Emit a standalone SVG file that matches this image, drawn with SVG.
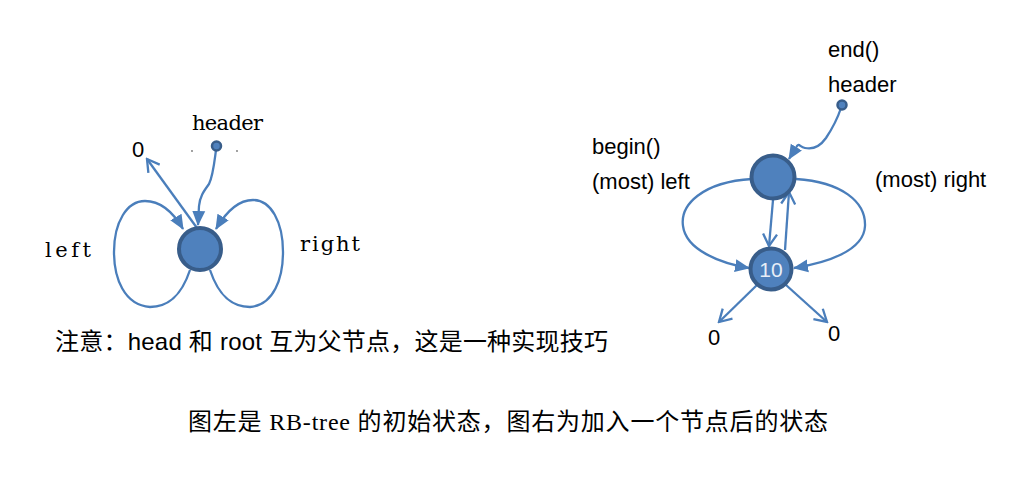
<svg xmlns="http://www.w3.org/2000/svg" width="1024" height="478" viewBox="0 0 1024 478">
<style>
.ln{fill:none;stroke:#4a7ebb;stroke-width:2.3;}
.node{fill:#4f81bd;stroke:#385d8a;stroke-width:4;}
.dot{fill:#4f81bd;stroke:#385d8a;stroke-width:2.5;}
.ser{font-family:"DejaVu Serif","Liberation Serif",serif;font-size:21px;fill:#000;}
.sans{font-family:"Liberation Sans",Arial,sans-serif;font-size:22px;fill:#000;}
.note{font-family:"Liberation Sans","Noto Sans CJK SC",sans-serif;font-size:24px;fill:#000;}
.cap{font-family:"Liberation Serif","Noto Sans CJK SC",serif;font-size:24px;fill:#000;}
</style>
<defs>
<marker id="tri" markerUnits="userSpaceOnUse" markerWidth="16" markerHeight="16" viewBox="0 0 16 16" refX="14" refY="8" orient="auto">
<path d="M0,1.5 L15,8 L0,14.5 Z" fill="#4a7ebb"/>
</marker>
<marker id="vee" markerUnits="userSpaceOnUse" markerWidth="16" markerHeight="16" viewBox="0 0 16 16" refX="14" refY="8" orient="auto">
<path d="M2,1 L14,8 L2,15" fill="none" stroke="#4a7ebb" stroke-width="2.3"/>
</marker>
</defs>
<rect width="1024" height="478" fill="#fff"/>

<g id="connectors">
<path class="ln" d="M216,150 C214,165 213,176 209,184 C204,191 200,196 199,206 L198,225" marker-end="url(#tri)"/>
<path class="ln" d="M197,228 L147,159" marker-end="url(#vee)"/>
<path class="ln" d="M190,270 C180,300 165,307 150,307 C124,305 114,278 114,252 C114,222 127,201 145,201 C161,201 173,212 183,229" marker-end="url(#tri)"/>
<path class="ln" d="M210,270 C220,300 235,307 250,307 C274,305 283,278 283,252 C283,222 271,200 253,200 C238,200 226,212 216,229" marker-end="url(#tri)"/>
<path class="ln" d="M841,108 C837,120 832,129 826,138 C821,145 814,150 805,148 C800,147 799,143 797,146 L789,159" marker-end="url(#tri)"/>
<path class="ln" d="M752,179 C702,182 680,205 683,226 C686,250 720,263 749,268" marker-end="url(#tri)"/>
<path class="ln" d="M796,179 C842,182 866,202 865,226 C864,251 826,263 794,268" marker-end="url(#tri)"/>
<path class="ln" d="M773,200 L769,246" marker-end="url(#vee)"/>
<path class="ln" d="M785,250 L789,192" marker-end="url(#vee)"/>
<path class="ln" d="M757,285 L719,322" marker-end="url(#vee)"/>
<path class="ln" d="M786,285 L827,322" marker-end="url(#vee)"/>
</g>

<g id="left-root">
<circle class="node" cx="200" cy="249" r="21"/>
</g>
<g id="left-header">
<circle class="dot" cx="216.5" cy="146" r="4.5"/>
<text class="ser" x="192" y="130" textLength="71" lengthAdjust="spacing">header</text>
<circle cx="192" cy="151" r="0.9" fill="#777"/>
<circle cx="237" cy="151" r="0.9" fill="#777"/>
</g>
<g id="left-labels">
<text class="sans" x="132" y="157" font-size="20">0</text>
<text class="ser" x="45" y="257" textLength="46" lengthAdjust="spacing">left</text>
<text class="ser" x="300" y="251" textLength="60" lengthAdjust="spacing">right</text>
</g>

<g id="right-header">
<circle class="dot" cx="842" cy="105" r="4.5"/>
<text class="sans" x="828" y="57">end()</text>
<text class="sans" x="828" y="92">header</text>
</g>
<g id="right-top">
<circle class="node" cx="773" cy="177" r="21.5"/>
</g>
<g id="right-node10">
<circle class="node" cx="771" cy="269" r="20.5"/>
<text x="771" y="277" text-anchor="middle" font-family="Liberation Sans, Arial, sans-serif" font-size="21" fill="#e8eef7">10</text>
</g>
<g id="right-labels">
<text class="sans" x="592" y="154">begin()</text>
<text class="sans" x="592" y="189">(most) left</text>
<text class="sans" x="875" y="187">(most) right</text>
<text class="sans" x="708" y="345" font-size="21">0</text>
<text class="sans" x="828" y="341" font-size="21">0</text>
</g>

<g id="captions">
<text class="note" x="55" y="350" textLength="553" lengthAdjust="spacing">注意：head 和 root 互为父节点，这是一种实现技巧</text>
<text class="cap" x="188" y="430" textLength="640" lengthAdjust="spacing">图左是 RB-tree 的初始状态，图右为加入一个节点后的状态</text>
</g>
</svg>
